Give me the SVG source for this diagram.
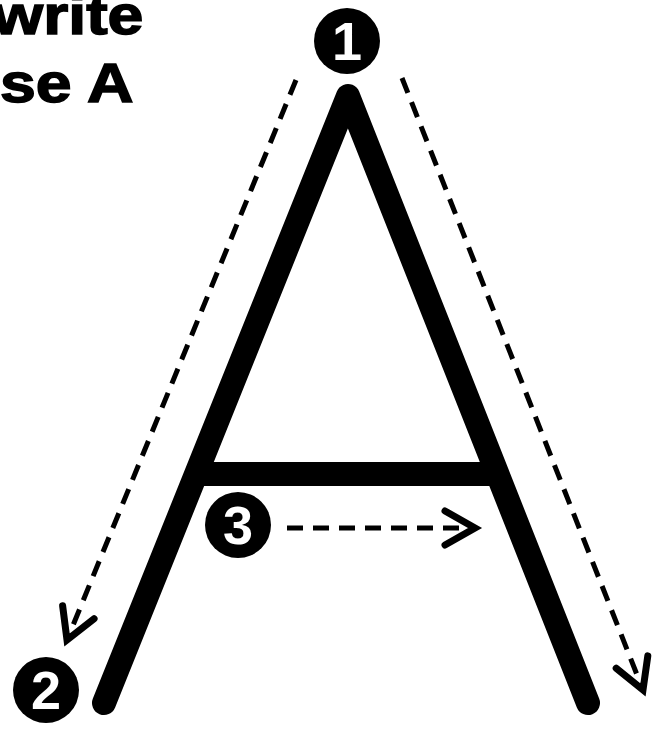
<svg xmlns="http://www.w3.org/2000/svg" width="652" height="731" viewBox="0 0 652 731">
  <style>
    .title { font-family: "Liberation Sans", Arial, sans-serif; font-weight: bold; font-size: 56px; fill: #000; stroke: #000; stroke-width: 1.5px; }
    .stroke { fill: none; stroke: #000; stroke-width: 24; stroke-linecap: round; stroke-linejoin: round; }
    .guide { fill: none; stroke: #000; stroke-width: 5; stroke-dasharray: 16 10; }
    .badge { fill: #000; }
    .num { font-family: "Liberation Sans", Arial, sans-serif; font-weight: bold; font-size: 54px; fill: #fff; text-anchor: middle; }
  </style>
  <defs>
    <marker id="chev" markerUnits="userSpaceOnUse" markerWidth="50" markerHeight="50" viewBox="-40 -25 50 50" refX="0" refY="0" orient="auto">
      <path d="M-30,-17 L0,0 L-30,17" fill="none" stroke="#000" stroke-width="7" stroke-linecap="round" stroke-linejoin="miter"/>
    </marker>
  </defs>
  <rect width="652" height="731" fill="#fff"/>

  <g id="title" transform="scale(1.15,1)">
    <text class="title" x="-6" y="34">write</text>
    <text class="title" x="0" y="102">se A</text>
  </g>

  <g id="letter-A">
    <polyline class="stroke" points="104,703 348,96 588,703"/>
    <line class="stroke" x1="200" y1="474" x2="495" y2="474"/>
  </g>

  <g id="connectors">
    <line class="guide" x1="296" y1="80" x2="67" y2="640" marker-end="url(#chev)"/>
    <line class="guide" x1="402" y1="78" x2="643" y2="690" marker-end="url(#chev)"/>
    <line class="guide" x1="287" y1="528" x2="475" y2="528" marker-end="url(#chev)"/>
  </g>

  <g id="step-1">
    <circle class="badge" cx="347" cy="41" r="33"/>
    <text class="num" x="347" y="60">1</text>
  </g>
  <g id="step-2">
    <circle class="badge" cx="46" cy="690" r="33"/>
    <text class="num" x="46" y="709">2</text>
  </g>
  <g id="step-3">
    <circle class="badge" cx="238" cy="525" r="33"/>
    <text class="num" x="238" y="544">3</text>
  </g>
</svg>
